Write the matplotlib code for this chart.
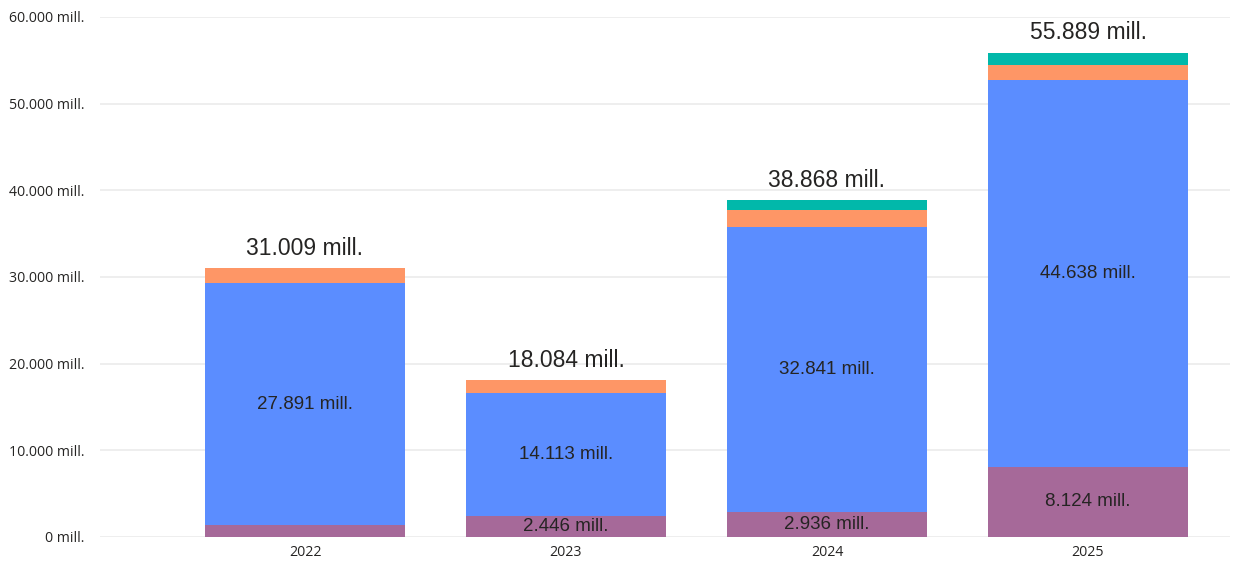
import matplotlib
matplotlib.use("Agg")
import matplotlib.pyplot as plt
import numpy as np

years = ["2022", "2023", "2024", "2025"]
purple = [1390, 2446, 2936, 8124]
blue = [27891, 14113, 32841, 44638]
orange = [1728, 1525, 1991, 1677]
teal = [0, 0, 1100, 1450]
totals = [31009, 18084, 38868, 55889]
show_purple_label = [False, True, True, True]
yticks = [0, 10000, 20000, 30000, 40000, 50000, 60000]

def tick_fmt(v):
    return "0 mill." if v == 0 else f"{int(v):,}".replace(",", ".") + " mill."

W, H = 1245, 561
fig = plt.figure(figsize=(W/100, H/100), dpi=100)
ax = fig.add_axes([100/W, (H-537)/H, (1230-100)/W, (537-17)/H])

x = np.arange(len(years))
bw = 200/261
c_purple = "#A66999"
c_blue = "#5B8DFF"
c_orange = "#FE9666"
c_teal = "#01B8AA"

b0 = np.zeros(len(years))
ax.bar(x, purple, bw, bottom=b0, color=c_purple, zorder=2)
b1 = b0 + np.array(purple)
ax.bar(x, blue, bw, bottom=b1, color=c_blue, zorder=2)
b2 = b1 + np.array(blue)
ax.bar(x, orange, bw, bottom=b2, color=c_orange, zorder=2)
b3 = b2 + np.array(orange)
ax.bar(x, teal, bw, bottom=b3, color=c_teal, zorder=2)

lab_font = "Liberation Sans"
for i in range(len(years)):
    ax.text(x[i], b1[i] + blue[i]/2, f"{blue[i]/1000:.3f} mill.", ha="center", va="center",
            fontsize=13.5, family=lab_font, color="#252423", zorder=3)
    if show_purple_label[i]:
        ax.text(x[i], purple[i]/2, f"{purple[i]/1000:.3f} mill.", ha="center", va="center",
                fontsize=13.5, family=lab_font, color="#252423", zorder=3)
    ax.annotate(f"{totals[i]/1000:.3f} mill.", (x[i], totals[i]), xytext=(0, 14.5),
                textcoords="offset points", ha="center", va="center",
                fontsize=16.5, family=lab_font, color="#252423", zorder=3)

ax.set_xlim(-205/261, 3 + 142/261)
ax.set_ylim(0, 60000)
ax.set_yticks(yticks)
ax.set_yticklabels([tick_fmt(v) for v in yticks])
ax.set_xticks(x)
ax.set_xticklabels(years)
for s in ax.spines.values():
    s.set_visible(False)
ax.tick_params(axis="y", length=0, pad=11, labelsize=10.2, labelcolor="#252423")
ax.tick_params(axis="x", length=0, pad=6, labelsize=10.2, labelcolor="#252423")
for lbl in ax.get_yticklabels() + ax.get_xticklabels():
    lbl.set_family("Open Sans")
ax.grid(axis="y", color="#EBEBEB", linewidth=1.2, zorder=0)
ax.set_axisbelow(True)

fig.savefig("out.png", dpi=100)
